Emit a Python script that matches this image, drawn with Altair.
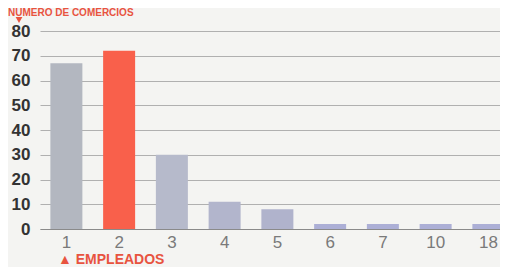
import altair as alt
import pandas as pd

categories = ["1", "2", "3", "4", "5", "6", "7", "10", "18"]
values = [67, 72, 30, 11, 8, 2, 2, 2, 2]
bar_colors = ["#b3b7c0", "#f9604b", "#b6bacb", "#b2b5cc", "#b0b3cc",
              "#acafd6", "#acafd6", "#acafd6", "#acafd6"]
y_ticks = [0, 10, 20, 30, 40, 50, 60, 70, 80]
y_title = "NÚMERO DE COMERCIOS"
x_title = "▲ EMPLEADOS"

df = pd.DataFrame({"cat": categories, "val": values})

W, H = 463, 198
step = 52.75

x_scale = alt.Scale(domain=categories, range=[3, 3 + step * len(categories)],
                    paddingInner=0.4, paddingOuter=0.2)

bars = alt.Chart(df).mark_bar(size=32).encode(
    x=alt.X("cat:N", sort=categories, scale=x_scale,
            axis=alt.Axis(title=None, labelAngle=0, labelFontSize=17,
                          labelFont="Liberation Sans", labelColor="#7a7a7a",
                          labelPadding=5, ticks=False, domain=True,
                          domainColor="#8a8a8a", domainWidth=1.2, grid=False)),
    y=alt.Y("val:Q", scale=alt.Scale(domain=[0, 80], nice=False),
            axis=alt.Axis(title=None, values=y_ticks, labelFontSize=17,
                          labelFont="Liberation Sans", labelFontWeight="bold",
                          labelColor="#333333", labelPadding=7, ticks=False,
                          domain=False, grid=True, gridColor="#b0b0b0",
                          gridWidth=1)),
    color=alt.Color("cat:N", scale=alt.Scale(domain=categories, range=bar_colors),
                    legend=None),
)

title_df = pd.DataFrame({"t": [y_title]})
title_txt = alt.Chart(title_df).mark_text(
    align="left", baseline="top", font="Liberation Sans",
    fontWeight="bold", fontSize=10, color="#e8533f"
).encode(x=alt.value(-29), y=alt.value(-23), text="t:N")

tri_df = pd.DataFrame({"s": ["tri"]})
triangle = alt.Chart(tri_df).mark_point(
    shape="triangle-down", filled=True, size=45, color="#e8533f", opacity=1
).encode(x=alt.value(-18), y=alt.value(-11))

xt_df = pd.DataFrame({"t": [x_title]})
x_txt = alt.Chart(xt_df).mark_text(
    align="left", baseline="middle", font="Liberation Sans",
    fontWeight="bold", fontSize=14, color="#e8533f"
).encode(x=alt.value(21), y=alt.value(229), text="t:N")

chart = alt.layer(bars, title_txt, triangle, x_txt).properties(
    width=W, height=H,
    autosize=alt.AutoSizeParams(type="none"),
    padding={"left": 29, "top": 23, "right": 0, "bottom": 38},
    background="#f4f4f2",
).configure_view(stroke=None)

chart.save("out.html", embed_options={"renderer": "svg", "actions": False})
